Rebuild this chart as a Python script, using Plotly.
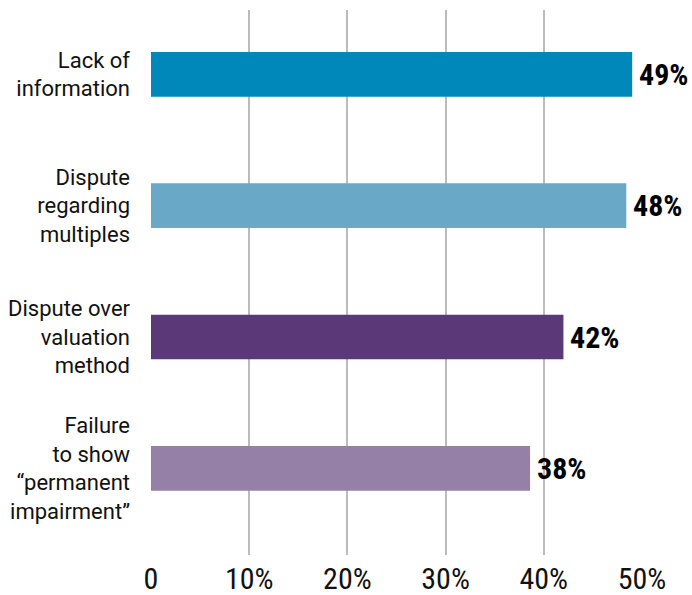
import plotly.graph_objects as go

categories = ["Lack of<br>information", "Dispute<br>regarding<br>multiples",
              "Dispute over<br>valuation<br>method",
              "Failure<br>to show<br>“permanent<br>impairment”"]
values = [49, 48.4, 42, 38.6]
value_labels = ["49%", "48%", "42%", "38%"]
colors = ["#0088bb", "#6aa8c8", "#5b3877", "#9580a8"]
tick_vals = [0, 10, 20, 30, 40, 50]
tick_text = ["0", "10%", "20%", "30%", "40%", "50%"]

NARROW = "Liberation Sans Narrow, Roboto Condensed, Roboto, sans-serif"
REG = "Roboto, sans-serif"

ys = list(range(len(categories)))

fig = go.Figure(go.Bar(
    x=values, y=ys, orientation="h",
    marker=dict(color=colors, line=dict(width=0)),
    width=0.34, hoverinfo="skip",
))

for v, yy, lab in zip(values, ys, value_labels):
    fig.add_annotation(x=v, y=yy, text=lab, showarrow=False,
                       xanchor="left", yanchor="middle", xshift=5,
                       font=dict(family=NARROW, size=30, color="black",
                                 weight="bold"))

fig.update_layout(
    width=692, height=595,
    margin=dict(l=151, r=50, t=10, b=40),
    plot_bgcolor="white", paper_bgcolor="white",
    showlegend=False,
    font=dict(family=NARROW, color="#111"),
    xaxis=dict(range=[0, 50], tickvals=tick_vals, ticktext=tick_text,
               showgrid=True, gridcolor="#bbbbbb", gridwidth=1.5,
               zeroline=False, showline=False, ticks="", automargin=False,
               ticklabelstandoff=3,
               tickfont=dict(size=30, family=NARROW, color="#111")),
    yaxis=dict(range=[3.66, -0.49], tickvals=ys,
               ticktext=categories, showgrid=False, zeroline=False,
               ticks="", ticklabelstandoff=20, automargin=False,
               tickfont=dict(size=22, family=REG, color="#111")),
)

fig.write_html("out.html")
